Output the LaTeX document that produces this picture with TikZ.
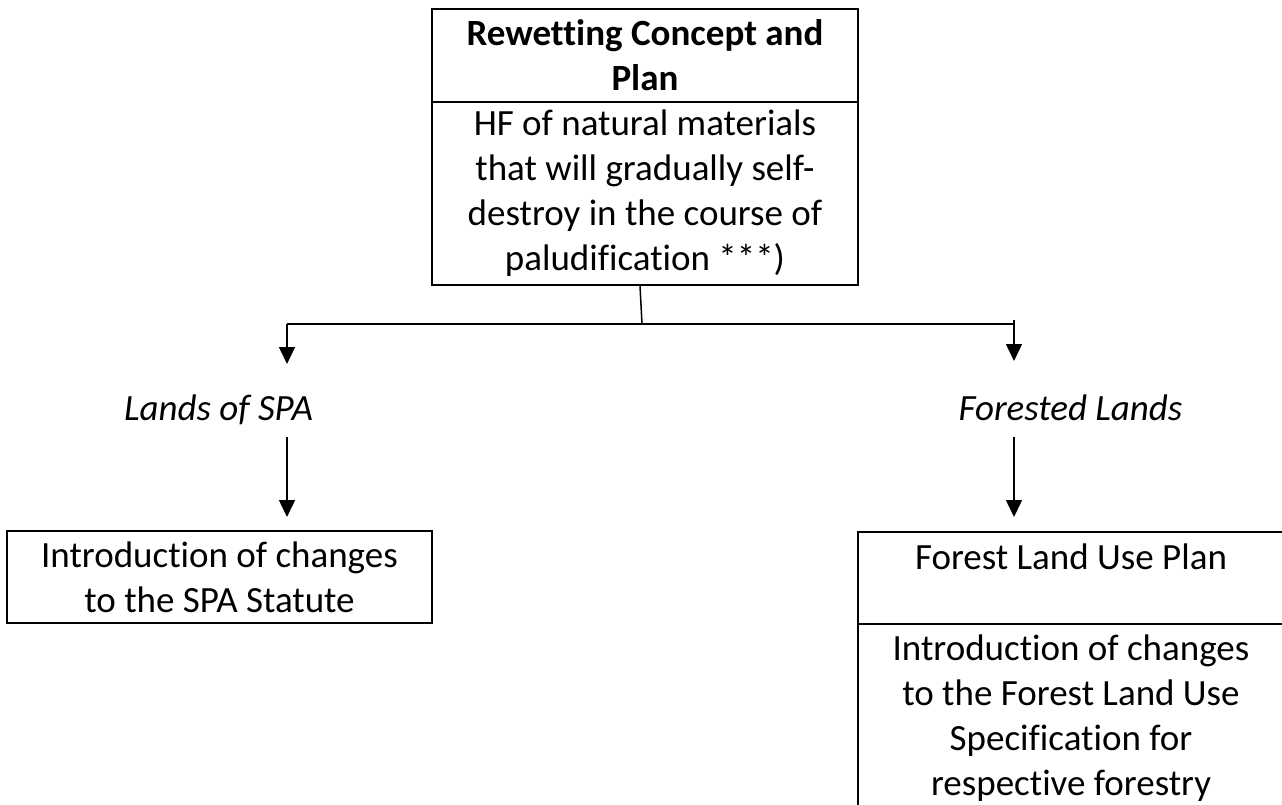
\documentclass[tikz,border=0pt]{standalone}
\usepackage{fontspec}
\setmainfont{Carlito}[Ligatures=NoCommon]
\usetikzlibrary{arrows.meta}
\begin{document}
\begin{tikzpicture}[x=1pt,y=-1pt,
  font=\fontsize{37}{45}\selectfont,
  boxnode/.style={draw=black, line width=2pt, align=center, inner sep=0pt},
  conn/.style={draw=black, line width=1.5pt},
  arr/.style={conn, -{Triangle[width=16pt,length=17pt]}},
  lbl/.style={anchor=base, inner sep=0pt, font=\fontsize{37}{45}\selectfont\itshape}
]
\useasboundingbox[clip] (0,0) rectangle (1282,805);
% top box
\node[boxnode, minimum width=426pt, minimum height=93pt, font=\fontsize{37}{45}\selectfont\bfseries] (t1) at (645,55.5) {Rewetting Concept and\\Plan};
\node[boxnode, minimum width=426pt, minimum height=183pt] (t2) at (645,193.5) {HF of natural materials\\that will gradually self-\\destroy in the course of\\paludification ***)};
% branches
\coordinate (hm) at (642,324);
\coordinate (hl) at (287,324);
\coordinate (hr) at (1014,324);
\coordinate (hrt) at (1014,320);
\coordinate (ltip) at (287,364);
\coordinate (rtip) at (1014,361);
\draw[conn] (t2.south -| 640,0) -- (hm);
\draw[conn] (hl) -- (hr);
\draw[arr] (hl) -- (ltip);
\draw[arr] (hrt) -- (rtip);
% labels
\node[lbl] (lands) at (218.5,420) {Lands of SPA};
\node[lbl] (forested) at (1070.5,420) {Forested Lands};
% left box
\node[boxnode, minimum width=425pt, minimum height=92pt] (spa) at (219.5,577) {Introduction of changes\\to the SPA Statute};
% right box
\node[boxnode, minimum width=426pt, anchor=north, text height=37.5pt, text depth=54.5pt] (flp) at (1071,531) {Forest Land Use Plan};
\node[draw=black, line width=2pt, inner sep=0pt, minimum width=426pt, anchor=north, text height=36.5pt, text depth=220pt] (flc) at (1071,623) {\parbox[t]{420pt}{\centering\fontsize{37}{45}\selectfont Introduction of changes\\to the Forest Land Use\\Specification for\\respective forestry}};
% arrows to boxes
\coordinate (la) at (287,437);
\coordinate (lb) at (287,517);
\coordinate (ra) at (1014,437);
\coordinate (rb) at (1014,517);
\draw[arr] (la) -- (lb);
\draw[arr] (ra) -- (rb);
\end{tikzpicture}
\end{document}
